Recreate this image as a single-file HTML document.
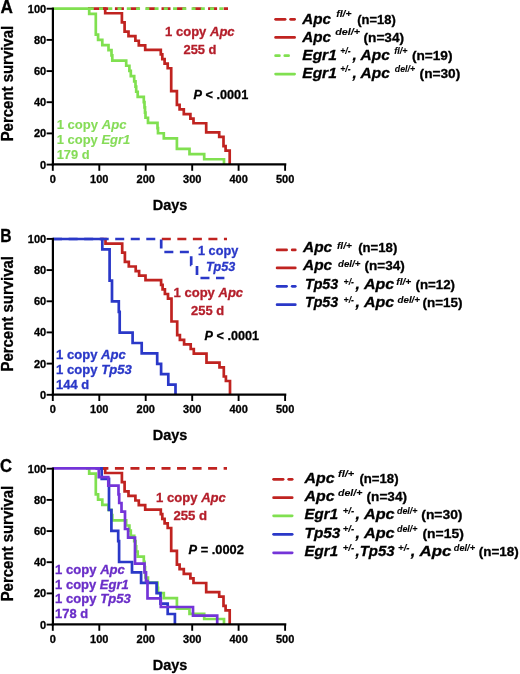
<!DOCTYPE html>
<html><head><meta charset="utf-8"><title>Survival curves</title><style>
html,body{margin:0;padding:0;background:#fff;width:520px;height:674px;overflow:hidden}
svg{display:block;will-change:transform;filter:blur(0.35px)}
text{font-family:"Liberation Sans",sans-serif;font-weight:bold;stroke:currentColor;stroke-width:0.3px}
</style></head><body>
<svg width="520" height="674" viewBox="0 0 520 674" font-family="Liberation Sans, sans-serif" font-weight="bold">
<rect width="520" height="674" fill="#fff"/>
<path d="M 88 8.8 H 105.2 V 13.4 H 121.9 V 22.5 H 124.6 V 31.7 H 128.5 V 36.3 H 135.4 V 40.9 H 138.8 V 45.5 H 145.2 V 50.0 H 160.8 V 54.6 H 162.3 V 59.2 H 164.6 V 63.8 H 167.7 V 68.4 H 171.2 V 91.3 H 176.9 V 105.0 H 179.6 V 109.6 H 183.8 V 114.2 H 190.4 V 118.8 H 193.5 V 123.4 H 206.2 V 132.5 H 219.2 V 137.1 H 223.5 V 146.3 H 225.6 V 150.8 H 229.7 V 164.6" transform="translate(0 -0.15)" fill="none" stroke="#c02320" stroke-width="2.7"/>
<path d="M 88 8.8 H 228" transform="translate(0 -0.15)" fill="none" stroke="#c02320" stroke-width="2.7" stroke-dasharray="9 6.53" stroke-dashoffset="35.2"/>
<path d="M 88 8.8 H 228" transform="translate(0 -0.15)" fill="none" stroke="#80e050" stroke-width="2.7" stroke-dasharray="4 5.25" stroke-dashoffset="35.2"/>
<path d="M 52.8 8.8 H 89.2 V 14.0 H 95.8 V 34.8 H 98.1 V 40.0 H 102.3 V 45.2 H 108.5 V 50.3 H 111.5 V 55.5 H 112.3 V 60.7 H 126.2 V 65.9 H 129.4 V 71.1 H 130.8 V 76.3 H 134.2 V 81.5 H 135.5 V 86.7 H 136.2 V 91.9 H 137.7 V 97.1 H 143.8 V 102.3 H 144.5 V 107.5 H 145.0 V 112.7 H 145.5 V 117.9 H 148.0 V 123.0 H 157.5 V 128.2 H 158.0 V 133.4 H 163.8 V 138.6 H 176.9 V 149.0 H 189.5 V 154.2 H 204.2 V 159.4 H 224.0 V 164.6" transform="translate(0 -0.15)" fill="none" stroke="#80e050" stroke-width="2.7"/>
<line x1="52.9" y1="7.6" x2="52.9" y2="165.6" stroke="#000" stroke-width="2.2"/>
<line x1="51.75" y1="164.4" x2="286.3" y2="164.4" stroke="#000" stroke-width="2.2"/>
<line x1="46.6" y1="8.7" x2="52.9" y2="8.7" stroke="#000" stroke-width="1.9"/>
<text x="46.2" y="12.7" font-size="11" text-anchor="end">100</text>
<line x1="46.6" y1="39.9" x2="52.9" y2="39.9" stroke="#000" stroke-width="1.9"/>
<text x="46.2" y="43.9" font-size="11" text-anchor="end">80</text>
<line x1="46.6" y1="71.1" x2="52.9" y2="71.1" stroke="#000" stroke-width="1.9"/>
<text x="46.2" y="75.1" font-size="11" text-anchor="end">60</text>
<line x1="46.6" y1="102.2" x2="52.9" y2="102.2" stroke="#000" stroke-width="1.9"/>
<text x="46.2" y="106.2" font-size="11" text-anchor="end">40</text>
<line x1="46.6" y1="133.4" x2="52.9" y2="133.4" stroke="#000" stroke-width="1.9"/>
<text x="46.2" y="137.4" font-size="11" text-anchor="end">20</text>
<line x1="46.6" y1="164.6" x2="52.9" y2="164.6" stroke="#000" stroke-width="1.9"/>
<text x="46.2" y="168.6" font-size="11" text-anchor="end">0</text>
<line x1="52.8" y1="164.4" x2="52.8" y2="170.8" stroke="#000" stroke-width="1.9"/>
<text x="52.8" y="182.8" font-size="11" text-anchor="middle">0</text>
<line x1="99.3" y1="164.4" x2="99.3" y2="170.8" stroke="#000" stroke-width="1.9"/>
<text x="99.3" y="182.8" font-size="11" text-anchor="middle">100</text>
<line x1="145.7" y1="164.4" x2="145.7" y2="170.8" stroke="#000" stroke-width="1.9"/>
<text x="145.7" y="182.8" font-size="11" text-anchor="middle">200</text>
<line x1="192.2" y1="164.4" x2="192.2" y2="170.8" stroke="#000" stroke-width="1.9"/>
<text x="192.2" y="182.8" font-size="11" text-anchor="middle">300</text>
<line x1="238.6" y1="164.4" x2="238.6" y2="170.8" stroke="#000" stroke-width="1.9"/>
<text x="238.6" y="182.8" font-size="11" text-anchor="middle">400</text>
<line x1="285.1" y1="164.4" x2="285.1" y2="170.8" stroke="#000" stroke-width="1.9"/>
<text x="285.1" y="182.8" font-size="11" text-anchor="middle">500</text>
<text x="170" y="209.6" font-size="15" text-anchor="middle" textLength="34.6" lengthAdjust="spacingAndGlyphs">Days</text>
<text transform="translate(13.4 83.6) rotate(-90)" font-size="16" text-anchor="middle" textLength="115.5" lengthAdjust="spacingAndGlyphs">Percent survival</text>
<text x="0.6" y="13.4" font-size="17.5" textLength="12.4" lengthAdjust="spacingAndGlyphs">A</text>
<text x="165.1" y="35.8" font-size="12.5" fill="#b41e2a" color="#b41e2a" textLength="69.5" lengthAdjust="spacingAndGlyphs">1 copy <tspan font-style="italic">Apc</tspan></text>
<text x="183.5" y="54.2" font-size="12.5" fill="#b41e2a" color="#b41e2a" textLength="33" lengthAdjust="spacingAndGlyphs">255 d</text>
<text x="193.5" y="99.2" font-size="12.5" fill="#000" color="#000" textLength="54.7" lengthAdjust="spacingAndGlyphs"><tspan font-style="italic">P</tspan> &lt; .0001</text>
<text x="56.7" y="129.2" font-size="12.5" fill="#86dc58" color="#86dc58" style="stroke-width:0.1px" textLength="69.8" lengthAdjust="spacingAndGlyphs">1 copy <tspan font-style="italic">Apc</tspan></text>
<text x="56.7" y="143.5" font-size="12.5" fill="#86dc58" color="#86dc58" style="stroke-width:0.1px" textLength="73.6" lengthAdjust="spacingAndGlyphs">1 copy <tspan font-style="italic">Egr1</tspan></text>
<text x="56.7" y="158.9" font-size="12.5" fill="#86dc58" color="#86dc58" style="stroke-width:0.1px" textLength="33" lengthAdjust="spacingAndGlyphs">179 d</text>
<line x1="275.6" y1="19.3" x2="285.1" y2="19.3" stroke="#c02320" stroke-width="2.7" stroke-linecap="round"/><line x1="290.6" y1="19.3" x2="294.6" y2="19.3" stroke="#c02320" stroke-width="2.7" stroke-linecap="round"/>
<line x1="275.6" y1="37.4" x2="294.6" y2="37.4" stroke="#c02320" stroke-width="2.7" stroke-linecap="round"/>
<line x1="275.6" y1="55.7" x2="279.4" y2="55.7" stroke="#80e050" stroke-width="2.7" stroke-linecap="round"/><line x1="284.8" y1="55.7" x2="288.6" y2="55.7" stroke="#80e050" stroke-width="2.7" stroke-linecap="round"/>
<line x1="275.6" y1="74.1" x2="294.6" y2="74.1" stroke="#80e050" stroke-width="2.7" stroke-linecap="round"/>
<text x="302.3" y="23.6" font-size="15" font-style="italic" textLength="28.8" lengthAdjust="spacingAndGlyphs">Apc</text>
<text x="336.3" y="17.1" font-size="9" font-style="italic" style="stroke-width:0.1px" textLength="15.2" lengthAdjust="spacingAndGlyphs">fl/+</text>
<text x="357.3" y="23.6" font-size="12.5" textLength="38.5" lengthAdjust="spacingAndGlyphs">(n=18)</text>
<text x="302.3" y="41.7" font-size="15" font-style="italic" textLength="28.8" lengthAdjust="spacingAndGlyphs">Apc</text>
<text x="335.2" y="35.2" font-size="9" font-style="italic" style="stroke-width:0.1px" textLength="24.8" lengthAdjust="spacingAndGlyphs">del/+</text>
<text x="363.5" y="41.7" font-size="12.5" textLength="40.6" lengthAdjust="spacingAndGlyphs">(n=34)</text>
<text x="302.3" y="60.0" font-size="15" font-style="italic" textLength="34.5" lengthAdjust="spacingAndGlyphs">Egr1</text>
<text x="340.2" y="53.5" font-size="9" font-style="italic" style="stroke-width:0.1px" textLength="10.4" lengthAdjust="spacingAndGlyphs">+/-</text>
<text x="352.6" y="60.0" font-size="15" font-style="italic" textLength="37.2" lengthAdjust="spacingAndGlyphs">, Apc</text>
<text x="394.3" y="53.5" font-size="9" font-style="italic" style="stroke-width:0.1px" textLength="13.2" lengthAdjust="spacingAndGlyphs">fl/+</text>
<text x="411.9" y="60.0" font-size="12.5" textLength="40.6" lengthAdjust="spacingAndGlyphs">(n=19)</text>
<text x="302.3" y="78.4" font-size="15" font-style="italic" textLength="34.5" lengthAdjust="spacingAndGlyphs">Egr1</text>
<text x="340.2" y="71.9" font-size="9" font-style="italic" style="stroke-width:0.1px" textLength="10.4" lengthAdjust="spacingAndGlyphs">+/-</text>
<text x="352.6" y="78.4" font-size="15" font-style="italic" textLength="37.2" lengthAdjust="spacingAndGlyphs">, Apc</text>
<text x="394.8" y="71.9" font-size="9" font-style="italic" style="stroke-width:0.1px" textLength="20.2" lengthAdjust="spacingAndGlyphs">del/+</text>
<text x="419.6" y="78.4" font-size="12.5" textLength="40.6" lengthAdjust="spacingAndGlyphs">(n=30)</text>
<path d="M 100 8.8 H 105.2 V 13.4 H 121.9 V 22.5 H 124.6 V 31.7 H 128.5 V 36.3 H 135.4 V 40.9 H 138.8 V 45.5 H 145.2 V 50.0 H 160.8 V 54.6 H 162.3 V 59.2 H 164.6 V 63.8 H 167.7 V 68.4 H 171.2 V 91.3 H 176.9 V 105.0 H 179.6 V 109.6 H 183.8 V 114.2 H 190.4 V 118.8 H 193.5 V 123.4 H 206.2 V 132.5 H 219.2 V 137.1 H 223.5 V 146.3 H 225.6 V 150.8 H 229.7 V 164.6" transform="translate(0.3 230.2)" fill="none" stroke="#c02320" stroke-width="2.7"/>
<path d="M 161 239 H 227" fill="none" stroke="#c02320" stroke-width="2.7" stroke-dasharray="9 6.53" stroke-dashoffset="107.9"/>
<path d="M 53.1 239 H 161.2 V 252 H 191.2 V 265 H 197 V 278 H 224.4" fill="none" stroke="#2a38c8" stroke-width="2.7" stroke-dasharray="9 6.53"/>
<path d="M 53.1 239 H 102.3 V 249.4 H 109.6 V 280.6 H 112 V 301.4 H 118.8 V 311.8 H 119.7 V 332.6 H 132.6 V 343 H 141.7 V 353.4 H 157.2 V 363.8 H 161.1 V 374.2 H 168.3 V 384.6 H 175.5 V 394.8" fill="none" stroke="#2a38c8" stroke-width="2.7"/>
<line x1="52.9" y1="237.8" x2="52.9" y2="395.8" stroke="#000" stroke-width="2.2"/>
<line x1="51.75" y1="394.6" x2="286.3" y2="394.6" stroke="#000" stroke-width="2.2"/>
<line x1="46.6" y1="238.9" x2="52.9" y2="238.9" stroke="#000" stroke-width="1.9"/>
<text x="46.2" y="242.9" font-size="11" text-anchor="end">100</text>
<line x1="46.6" y1="270.1" x2="52.9" y2="270.1" stroke="#000" stroke-width="1.9"/>
<text x="46.2" y="274.1" font-size="11" text-anchor="end">80</text>
<line x1="46.6" y1="301.3" x2="52.9" y2="301.3" stroke="#000" stroke-width="1.9"/>
<text x="46.2" y="305.3" font-size="11" text-anchor="end">60</text>
<line x1="46.6" y1="332.4" x2="52.9" y2="332.4" stroke="#000" stroke-width="1.9"/>
<text x="46.2" y="336.4" font-size="11" text-anchor="end">40</text>
<line x1="46.6" y1="363.6" x2="52.9" y2="363.6" stroke="#000" stroke-width="1.9"/>
<text x="46.2" y="367.6" font-size="11" text-anchor="end">20</text>
<line x1="46.6" y1="394.8" x2="52.9" y2="394.8" stroke="#000" stroke-width="1.9"/>
<text x="46.2" y="398.8" font-size="11" text-anchor="end">0</text>
<line x1="52.8" y1="394.6" x2="52.8" y2="401.0" stroke="#000" stroke-width="1.9"/>
<text x="52.8" y="413.0" font-size="11" text-anchor="middle">0</text>
<line x1="99.3" y1="394.6" x2="99.3" y2="401.0" stroke="#000" stroke-width="1.9"/>
<text x="99.3" y="413.0" font-size="11" text-anchor="middle">100</text>
<line x1="145.7" y1="394.6" x2="145.7" y2="401.0" stroke="#000" stroke-width="1.9"/>
<text x="145.7" y="413.0" font-size="11" text-anchor="middle">200</text>
<line x1="192.2" y1="394.6" x2="192.2" y2="401.0" stroke="#000" stroke-width="1.9"/>
<text x="192.2" y="413.0" font-size="11" text-anchor="middle">300</text>
<line x1="238.6" y1="394.6" x2="238.6" y2="401.0" stroke="#000" stroke-width="1.9"/>
<text x="238.6" y="413.0" font-size="11" text-anchor="middle">400</text>
<line x1="285.1" y1="394.6" x2="285.1" y2="401.0" stroke="#000" stroke-width="1.9"/>
<text x="285.1" y="413.0" font-size="11" text-anchor="middle">500</text>
<text x="170" y="439.8" font-size="15" text-anchor="middle" textLength="34.6" lengthAdjust="spacingAndGlyphs">Days</text>
<text transform="translate(13.4 313.8) rotate(-90)" font-size="16" text-anchor="middle" textLength="115.5" lengthAdjust="spacingAndGlyphs">Percent survival</text>
<text x="0.3" y="241.8" font-size="17.5" textLength="11.3" lengthAdjust="spacingAndGlyphs">B</text>
<text x="198.0" y="255" font-size="12.5" fill="#2a38c8" color="#2a38c8" textLength="40.2" lengthAdjust="spacingAndGlyphs">1 copy</text>
<text x="205.9" y="271.2" font-size="12.5" fill="#2a38c8" color="#2a38c8" textLength="29.3" lengthAdjust="spacingAndGlyphs"><tspan font-style="italic">Tp53</tspan></text>
<text x="173.6" y="297.3" font-size="12.5" fill="#b41e2a" color="#b41e2a" textLength="69.5" lengthAdjust="spacingAndGlyphs">1 copy <tspan font-style="italic">Apc</tspan></text>
<text x="191.1" y="315" font-size="12.5" fill="#b41e2a" color="#b41e2a" textLength="33" lengthAdjust="spacingAndGlyphs">255 d</text>
<text x="204.6" y="339.6" font-size="12.5" fill="#000" color="#000" textLength="54.4" lengthAdjust="spacingAndGlyphs"><tspan font-style="italic">P</tspan> &lt; .0001</text>
<text x="56.1" y="358.8" font-size="12.5" fill="#2a38c8" color="#2a38c8" textLength="69.7" lengthAdjust="spacingAndGlyphs">1 copy <tspan font-style="italic">Apc</tspan></text>
<text x="56.1" y="373.5" font-size="12.5" fill="#2a38c8" color="#2a38c8" textLength="75.6" lengthAdjust="spacingAndGlyphs">1 copy <tspan font-style="italic">Tp53</tspan></text>
<text x="56.1" y="388.5" font-size="12.5" fill="#2a38c8" color="#2a38c8" textLength="33" lengthAdjust="spacingAndGlyphs">144 d</text>
<line x1="277.1" y1="249.9" x2="286.6" y2="249.9" stroke="#c02320" stroke-width="2.7" stroke-linecap="round"/><line x1="292.2" y1="249.9" x2="295.3" y2="249.9" stroke="#c02320" stroke-width="2.7" stroke-linecap="round"/>
<line x1="277.1" y1="267.9" x2="295.3" y2="267.9" stroke="#c02320" stroke-width="2.7" stroke-linecap="round"/>
<line x1="277.1" y1="286.3" x2="286.6" y2="286.3" stroke="#2a38c8" stroke-width="2.7" stroke-linecap="round"/><line x1="292.2" y1="286.3" x2="295.3" y2="286.3" stroke="#2a38c8" stroke-width="2.7" stroke-linecap="round"/>
<line x1="277.1" y1="304.7" x2="295.3" y2="304.7" stroke="#2a38c8" stroke-width="2.7" stroke-linecap="round"/>
<text x="303.0" y="252.1" font-size="15" font-style="italic" textLength="29.2" lengthAdjust="spacingAndGlyphs">Apc</text>
<text x="337" y="248.6" font-size="9" font-style="italic" style="stroke-width:0.1px" textLength="14.8" lengthAdjust="spacingAndGlyphs">fl/+</text>
<text x="358.2" y="252.1" font-size="12.5" textLength="39.1" lengthAdjust="spacingAndGlyphs">(n=18)</text>
<text x="303.0" y="270.1" font-size="15" font-style="italic" textLength="29.2" lengthAdjust="spacingAndGlyphs">Apc</text>
<text x="338" y="266.6" font-size="9" font-style="italic" style="stroke-width:0.1px" textLength="22.3" lengthAdjust="spacingAndGlyphs">del/+</text>
<text x="364.5" y="270.1" font-size="12.5" textLength="40.2" lengthAdjust="spacingAndGlyphs">(n=34)</text>
<text x="304.9" y="288.5" font-size="15" font-style="italic" textLength="33.4" lengthAdjust="spacingAndGlyphs">Tp53</text>
<text x="343.6" y="285.0" font-size="9" font-style="italic" style="stroke-width:0.1px" textLength="10.4" lengthAdjust="spacingAndGlyphs">+/-</text>
<text x="355.6" y="288.5" font-size="15" font-style="italic" textLength="38.6" lengthAdjust="spacingAndGlyphs">, Apc</text>
<text x="396.3" y="285.0" font-size="9" font-style="italic" style="stroke-width:0.1px" textLength="15" lengthAdjust="spacingAndGlyphs">fl/+</text>
<text x="415.6" y="288.5" font-size="12.5" textLength="39.4" lengthAdjust="spacingAndGlyphs">(n=12)</text>
<text x="304.9" y="306.9" font-size="15" font-style="italic" textLength="33.4" lengthAdjust="spacingAndGlyphs">Tp53</text>
<text x="343.6" y="303.4" font-size="9" font-style="italic" style="stroke-width:0.1px" textLength="10.4" lengthAdjust="spacingAndGlyphs">+/-</text>
<text x="355.6" y="306.9" font-size="15" font-style="italic" textLength="38.6" lengthAdjust="spacingAndGlyphs">, Apc</text>
<text x="397.5" y="303.4" font-size="9" font-style="italic" style="stroke-width:0.1px" textLength="22.5" lengthAdjust="spacingAndGlyphs">del/+</text>
<text x="422.5" y="306.9" font-size="12.5" textLength="40" lengthAdjust="spacingAndGlyphs">(n=15)</text>
<path d="M 98 8.8 H 105.2 V 13.4 H 121.9 V 22.5 H 124.6 V 31.7 H 128.5 V 36.3 H 135.4 V 40.9 H 138.8 V 45.5 H 145.2 V 50.0 H 160.8 V 54.6 H 162.3 V 59.2 H 164.6 V 63.8 H 167.7 V 68.4 H 171.2 V 91.3 H 176.9 V 105.0 H 179.6 V 109.6 H 183.8 V 114.2 H 190.4 V 118.8 H 193.5 V 123.4 H 206.2 V 132.5 H 219.2 V 137.1 H 223.5 V 146.3 H 225.6 V 150.8 H 229.7 V 164.6" transform="translate(0 459.6)" fill="none" stroke="#c02320" stroke-width="2.7"/>
<path d="M 98 8.8 H 227" transform="translate(0 459.6)" fill="none" stroke="#c02320" stroke-width="2.7" stroke-dasharray="9 6.53" stroke-dashoffset="45.2"/>
<path d="M 86 8.8 H 89.2 V 14.0 H 95.8 V 34.8 H 98.1 V 40.0 H 102.3 V 45.2 H 108.5 V 50.3 H 111.5 V 55.5 H 112.3 V 60.7 H 126.2 V 65.9 H 129.4 V 71.1 H 130.8 V 76.3 H 134.2 V 81.5 H 135.5 V 86.7 H 136.2 V 91.9 H 137.7 V 97.1 H 143.8 V 102.3 H 144.5 V 107.5 H 145.0 V 112.7 H 145.5 V 117.9 H 148.0 V 123.0 H 157.5 V 128.2 H 158.0 V 133.4 H 163.8 V 138.6 H 176.9 V 149.0 H 189.5 V 154.2 H 204.2 V 159.4 H 224.0 V 164.6" transform="translate(0 459.6)" fill="none" stroke="#80e050" stroke-width="2.7"/>
<path d="M 96 239 H 102.3 V 249.4 H 109.6 V 280.6 H 112 V 301.4 H 118.8 V 311.8 H 119.7 V 332.6 H 132.6 V 343 H 141.7 V 353.4 H 157.2 V 363.8 H 161.1 V 374.2 H 168.3 V 384.6 H 175.5 V 394.8" transform="translate(-0.6 229.4)" fill="none" stroke="#2a38c8" stroke-width="2.7"/>
<path d="M 52.5 468.8 H 98.8 V 477.5 H 108.3 V 486.1 H 118.5 V 494.8 H 119.2 V 503.4 H 121.5 V 512.1 H 125 V 529.4 H 128.1 V 538.1 H 135 V 564.1 H 144.5 V 572.7 H 146 V 581.4 H 147.5 V 598.7 H 160.8 V 607.4 H 193 V 616 H 217.2 V 624.7" transform="translate(0 -0.4)" fill="none" stroke="#7434d8" stroke-width="2.7"/>
<line x1="52.9" y1="467.6" x2="52.9" y2="625.6" stroke="#000" stroke-width="2.2"/>
<line x1="51.75" y1="624.4" x2="286.3" y2="624.4" stroke="#000" stroke-width="2.2"/>
<line x1="46.6" y1="468.7" x2="52.9" y2="468.7" stroke="#000" stroke-width="1.9"/>
<text x="46.2" y="472.7" font-size="11" text-anchor="end">100</text>
<line x1="46.6" y1="499.9" x2="52.9" y2="499.9" stroke="#000" stroke-width="1.9"/>
<text x="46.2" y="503.9" font-size="11" text-anchor="end">80</text>
<line x1="46.6" y1="531.1" x2="52.9" y2="531.1" stroke="#000" stroke-width="1.9"/>
<text x="46.2" y="535.1" font-size="11" text-anchor="end">60</text>
<line x1="46.6" y1="562.2" x2="52.9" y2="562.2" stroke="#000" stroke-width="1.9"/>
<text x="46.2" y="566.2" font-size="11" text-anchor="end">40</text>
<line x1="46.6" y1="593.4" x2="52.9" y2="593.4" stroke="#000" stroke-width="1.9"/>
<text x="46.2" y="597.4" font-size="11" text-anchor="end">20</text>
<line x1="46.6" y1="624.6" x2="52.9" y2="624.6" stroke="#000" stroke-width="1.9"/>
<text x="46.2" y="628.6" font-size="11" text-anchor="end">0</text>
<line x1="52.8" y1="624.4" x2="52.8" y2="630.8" stroke="#000" stroke-width="1.9"/>
<text x="52.8" y="642.8" font-size="11" text-anchor="middle">0</text>
<line x1="99.3" y1="624.4" x2="99.3" y2="630.8" stroke="#000" stroke-width="1.9"/>
<text x="99.3" y="642.8" font-size="11" text-anchor="middle">100</text>
<line x1="145.7" y1="624.4" x2="145.7" y2="630.8" stroke="#000" stroke-width="1.9"/>
<text x="145.7" y="642.8" font-size="11" text-anchor="middle">200</text>
<line x1="192.2" y1="624.4" x2="192.2" y2="630.8" stroke="#000" stroke-width="1.9"/>
<text x="192.2" y="642.8" font-size="11" text-anchor="middle">300</text>
<line x1="238.6" y1="624.4" x2="238.6" y2="630.8" stroke="#000" stroke-width="1.9"/>
<text x="238.6" y="642.8" font-size="11" text-anchor="middle">400</text>
<line x1="285.1" y1="624.4" x2="285.1" y2="630.8" stroke="#000" stroke-width="1.9"/>
<text x="285.1" y="642.8" font-size="11" text-anchor="middle">500</text>
<text x="170" y="669.6" font-size="15" text-anchor="middle" textLength="34.6" lengthAdjust="spacingAndGlyphs">Days</text>
<text transform="translate(13.4 543.6) rotate(-90)" font-size="16" text-anchor="middle" textLength="115.5" lengthAdjust="spacingAndGlyphs">Percent survival</text>
<text x="0.1" y="472.0" font-size="17.5" textLength="12.0" lengthAdjust="spacingAndGlyphs">C</text>
<text x="156.1" y="502.0" font-size="12.5" fill="#b41e2a" color="#b41e2a" textLength="69.8" lengthAdjust="spacingAndGlyphs">1 copy <tspan font-style="italic">Apc</tspan></text>
<text x="173.4" y="520.2" font-size="12.5" fill="#b41e2a" color="#b41e2a" textLength="33.7" lengthAdjust="spacingAndGlyphs">255 d</text>
<text x="188.5" y="554.1" font-size="12.5" fill="#000" color="#000" textLength="55.3" lengthAdjust="spacingAndGlyphs"><tspan font-style="italic">P</tspan> = .0002</text>
<text x="55.1" y="573.5" font-size="12.5" fill="#6a2ec8" color="#6a2ec8" textLength="69.8" lengthAdjust="spacingAndGlyphs">1 copy <tspan font-style="italic">Apc</tspan></text>
<text x="55.1" y="588.5" font-size="12.5" fill="#6a2ec8" color="#6a2ec8" textLength="73.6" lengthAdjust="spacingAndGlyphs">1 copy <tspan font-style="italic">Egr1</tspan></text>
<text x="55.1" y="603.4" font-size="12.5" fill="#6a2ec8" color="#6a2ec8" textLength="75.6" lengthAdjust="spacingAndGlyphs">1 copy <tspan font-style="italic">Tp53</tspan></text>
<text x="55.1" y="618.2" font-size="12.5" fill="#6a2ec8" color="#6a2ec8" textLength="33" lengthAdjust="spacingAndGlyphs">178 d</text>
<line x1="273.6" y1="479.3" x2="283.1" y2="479.3" stroke="#c02320" stroke-width="2.7" stroke-linecap="round"/><line x1="288.7" y1="479.3" x2="292.2" y2="479.3" stroke="#c02320" stroke-width="2.7" stroke-linecap="round"/>
<line x1="273.6" y1="497.7" x2="292.2" y2="497.7" stroke="#c02320" stroke-width="2.7" stroke-linecap="round"/>
<line x1="273.6" y1="515.8" x2="292.2" y2="515.8" stroke="#80e050" stroke-width="2.7" stroke-linecap="round"/>
<line x1="273.6" y1="534.3" x2="292.2" y2="534.3" stroke="#2a38c8" stroke-width="2.7" stroke-linecap="round"/>
<line x1="273.6" y1="552.8" x2="292.2" y2="552.8" stroke="#7434d8" stroke-width="2.7" stroke-linecap="round"/>
<text x="304.6" y="482.9" font-size="15" font-style="italic" textLength="30" lengthAdjust="spacingAndGlyphs">Apc</text>
<text x="338" y="477.1" font-size="9" font-style="italic" style="stroke-width:0.1px" textLength="16.2" lengthAdjust="spacingAndGlyphs">fl/+</text>
<text x="359.4" y="482.9" font-size="12.5" textLength="39.2" lengthAdjust="spacingAndGlyphs">(n=18)</text>
<text x="304.6" y="501.3" font-size="15" font-style="italic" textLength="30" lengthAdjust="spacingAndGlyphs">Apc</text>
<text x="338" y="495.5" font-size="9" font-style="italic" style="stroke-width:0.1px" textLength="24.3" lengthAdjust="spacingAndGlyphs">del/+</text>
<text x="366.6" y="501.3" font-size="12.5" textLength="40.4" lengthAdjust="spacingAndGlyphs">(n=34)</text>
<text x="304.6" y="519.4" font-size="15" font-style="italic" textLength="33.4" lengthAdjust="spacingAndGlyphs">Egr1</text>
<text x="342.7" y="513.6" font-size="9" font-style="italic" style="stroke-width:0.1px" textLength="11.5" lengthAdjust="spacingAndGlyphs">+/-</text>
<text x="355.5" y="519.4" font-size="15" font-style="italic" textLength="39.1" lengthAdjust="spacingAndGlyphs">, Apc</text>
<text x="397" y="513.6" font-size="9" font-style="italic" style="stroke-width:0.1px" textLength="20.5" lengthAdjust="spacingAndGlyphs">del/+</text>
<text x="421.3" y="519.4" font-size="12.5" textLength="41.2" lengthAdjust="spacingAndGlyphs">(n=30)</text>
<text x="304.6" y="537.9" font-size="15" font-style="italic" textLength="35.8" lengthAdjust="spacingAndGlyphs">Tp53</text>
<text x="342.7" y="532.1" font-size="9" font-style="italic" style="stroke-width:0.1px" textLength="11.5" lengthAdjust="spacingAndGlyphs">+/-</text>
<text x="355.5" y="537.9" font-size="15" font-style="italic" textLength="39.1" lengthAdjust="spacingAndGlyphs">, Apc</text>
<text x="397" y="532.1" font-size="9" font-style="italic" style="stroke-width:0.1px" textLength="20.5" lengthAdjust="spacingAndGlyphs">del/+</text>
<text x="422.5" y="537.9" font-size="12.5" textLength="41.3" lengthAdjust="spacingAndGlyphs">(n=15)</text>
<text x="304.6" y="556.4" font-size="15" font-style="italic" textLength="33.4" lengthAdjust="spacingAndGlyphs">Egr1</text>
<text x="342.7" y="550.6" font-size="9" font-style="italic" style="stroke-width:0.1px" textLength="11.5" lengthAdjust="spacingAndGlyphs">+/-</text>
<text x="355.5" y="556.4" font-size="15" font-style="italic" textLength="39.1" lengthAdjust="spacingAndGlyphs">,Tp53</text>
<text x="398" y="550.6" font-size="9" font-style="italic" style="stroke-width:0.1px" textLength="11.6" lengthAdjust="spacingAndGlyphs">+/-</text>
<text x="410.8" y="556.4" font-size="15" font-style="italic" textLength="40.5" lengthAdjust="spacingAndGlyphs">, Apc</text>
<text x="453.8" y="550.6" font-size="9" font-style="italic" style="stroke-width:0.1px" textLength="21.2" lengthAdjust="spacingAndGlyphs">del/+</text>
<text x="478.8" y="556.4" font-size="12.5" textLength="40" lengthAdjust="spacingAndGlyphs">(n=18)</text>
</svg>
</body></html>
